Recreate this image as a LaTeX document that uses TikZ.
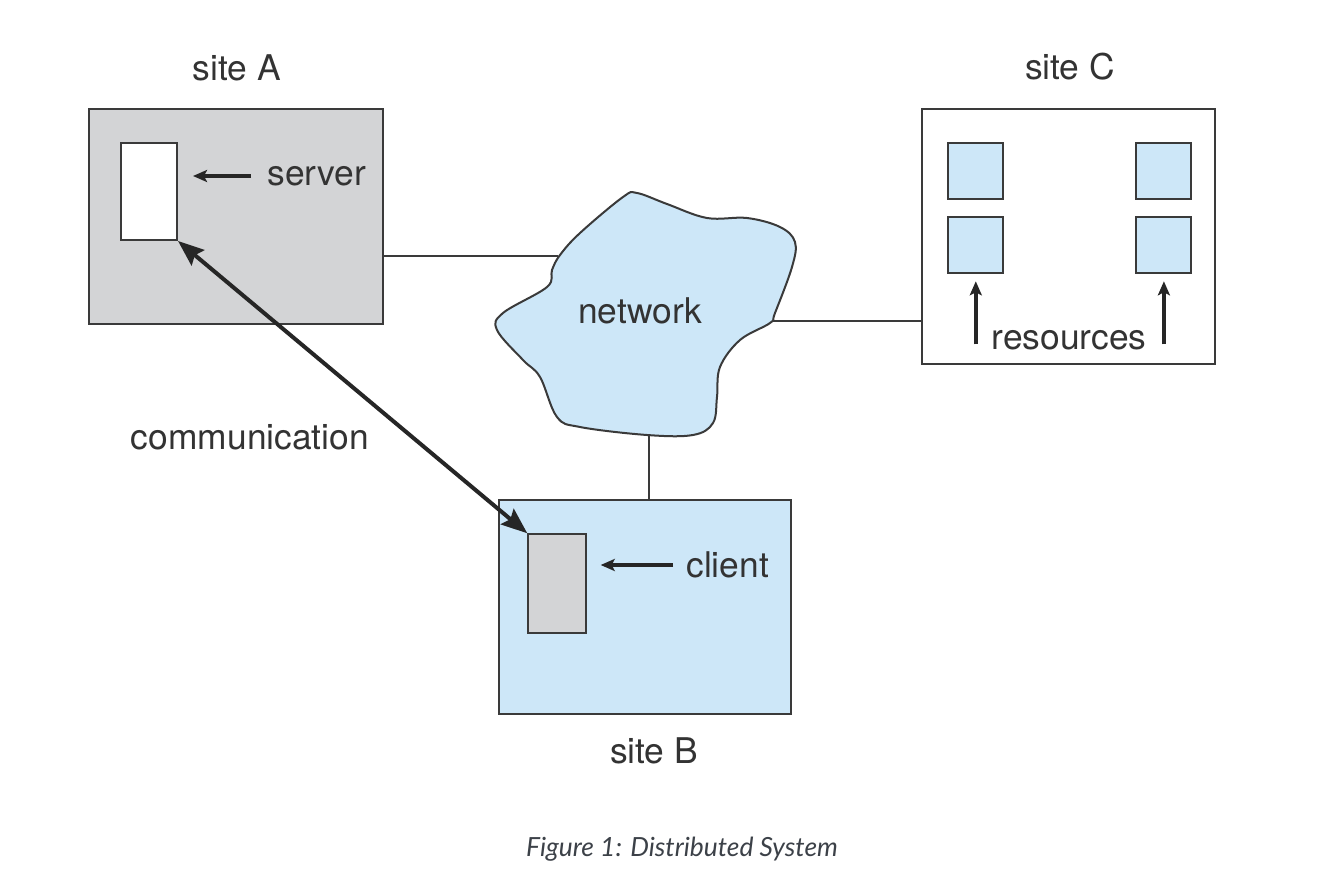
\documentclass[tikz,border=0pt]{standalone}
\usepackage{fontspec}
\setmainfont{TeX Gyre Heros}
\newfontfamily\capfont{Lato}
\usetikzlibrary{arrows.meta}
\definecolor{boxgray}{HTML}{D3D4D6}
\definecolor{netblue}{HTML}{CDE7F8}
\definecolor{edgegray}{HTML}{3A3A3A}
\definecolor{textgray}{HTML}{333333}
\definecolor{capgray}{HTML}{3C4148}
\begin{document}
\begin{tikzpicture}[x=0.5pt,y=-0.5pt,
  box/.style={draw=edgegray, line width=1pt, inner sep=0pt},
  res/.style={box, fill=netblue, minimum width=27.5pt, minimum height=28.3pt},
  lbl/.style={font=\fontsize{17.7}{20}\selectfont, text=textgray, inner sep=0pt},
  link/.style={draw=edgegray, line width=0.8pt},
  ptr/.style={draw=black!85, line width=1.7pt, -{Stealth[length=7pt,width=6pt,inset=1.5pt]}}]
\useasboundingbox (0,0) rectangle (1330,878);
\node[box, fill=boxgray, minimum width=147pt, minimum height=107.5pt] (siteA) at (236,216.5){};
\node[box, fill=white, minimum width=28pt, minimum height=48.5pt] (server) at (149,191.5){};
\node[lbl] (siteAlbl) at (237,68){site A};
\node[lbl, anchor=west] (serverlbl) at (267,176){server};
\draw[ptr] ([xshift=-8pt]serverlbl.west) -- ([xshift=7.5pt]server.east |- serverlbl.west);
\node[box, fill=white, minimum width=146.5pt, minimum height=127.5pt] (siteC) at (1068.5,236.5){};
\node[res] (res1) at (975.8,171){};
\node[res] (res2) at (975.8,245){};
\node[res] (res3) at (1163.9,171){};
\node[res] (res4) at (1163.9,245){};
\node[lbl] (siteClbl) at (1070,67){site C};
\node[lbl] (reslbl) at (1069,340){resources};
\draw[ptr] ([yshift=-35pt]res2.south) -- ([yshift=-3.5pt]res2.south);
\draw[ptr] ([yshift=-35pt]res4.south) -- ([yshift=-3.5pt]res4.south);
\node[box, fill=netblue, minimum width=146pt, minimum height=107pt] (siteB) at (645,607){};
\node[box, fill=boxgray, minimum width=28.7pt, minimum height=49.5pt] (client) at (557,583.8){};
\node[lbl] (siteBlbl) at (654,751){site B};
\node[lbl, anchor=west] (clientlbl) at (686,565){client};
\draw[ptr] ([xshift=-6.5pt]clientlbl.west) -- ([xshift=7pt]client.east |- clientlbl.west);
\draw[box, fill=netblue] plot[smooth cycle, tension=0.6] coordinates {(637,193) (667,204) (707,218) (747,218) (780,227) (795,242) (792,267) (775,313) (770,323) (740,340) (720,367) (717,397) (713,423) (693,435) (647,435) (580,427) (557,417) (540,377) (523,360) (497,330) (503,313) (547,287) (552,270) (560,255) (580,233) (623,197)};
\node[lbl] (network) at (640,311){network};
\coordinate (netW) at (558,256);
\coordinate (netE) at (773,321);
\coordinate (netS) at (649,435);
\draw[link] (siteA.east |- netW) -- (netW);
\draw[link] (netE) -- (siteC.west |- netE);
\draw[link] (netS) -- (netS |- siteB.north);
\draw[draw=black!85, line width=2pt, {Stealth[length=13pt,width=10pt,inset=2pt]}-{Stealth[length=13pt,width=10pt,inset=2pt]}] (server.south east) -- (client.north west);
\node[lbl] (commlbl) at (250,437){communication};
\node[font=\capfont\itshape\fontsize{13.2}{15}\selectfont, text=capgray, inner sep=0pt] (caption) at (682,849){Figure 1: Distributed System};
\end{tikzpicture}
\end{document}
